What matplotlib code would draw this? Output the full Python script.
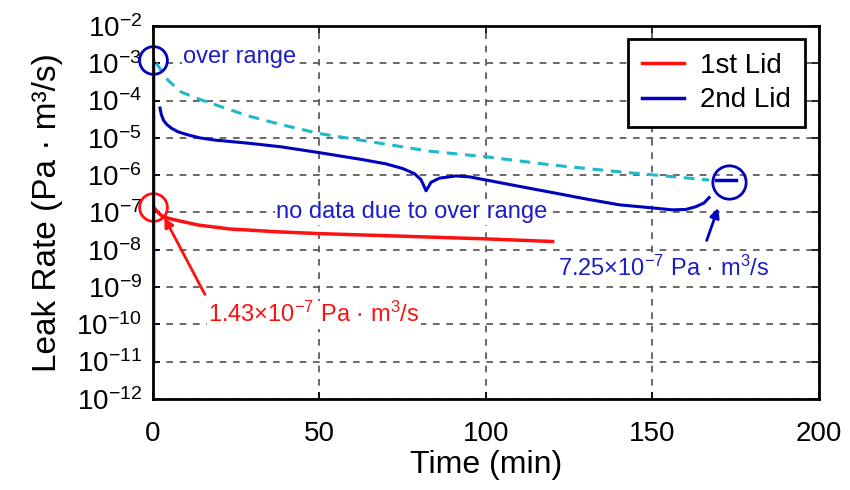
"""
Leak rate of the 1st and 2nd lids versus time (log scale).
"""

import math

import matplotlib
matplotlib.use("Agg")
import matplotlib.pyplot as plt
from matplotlib.ticker import FixedLocator, FuncFormatter

plt.rcParams['font.family'] = ['Liberation Sans', 'DejaVu Sans']

# ----------- DATA -----------

# 1st lid (red)
t_lid1 = [0, 1.5, 3, 6.6, 13.5, 23, 38, 50, 75, 100, 120]
leak_lid1 = [1.43e-7, 1.0e-7, 7.6e-8, 6.3e-8, 4.6e-8, 3.6e-8, 3.0e-8, 2.7e-8,
             2.3e-8, 1.95e-8, 1.66e-8]

# 2nd lid (blue): over range at start, final reading at the end
t_lid2_start = [0, 0]
leak_lid2_start = [1.2e-3, 1e-11]
t_lid2_end = [169, 175]
leak_lid2_end = [7.25e-7, 7.25e-7]

# estimated curve for the 2nd lid (cyan dashed)
t_est = [1, 4.5, 8.4, 14.4, 21.6, 28.5, 34.5, 40, 50, 68, 83, 100, 120, 140,
         150, 167]
leak_est = [1.0e-3, 3.5e-4, 1.7e-4, 1.05e-4, 6.3e-5, 3.9e-5, 2.8e-5, 2.1e-5,
            1.3e-5, 7.2e-6, 4.4e-6, 3.1e-6, 1.86e-6, 1.23e-6, 1.02e-6, 7.4e-7]

# curly brace over the missing 2nd lid data
t_brace = [2.1, 2.5, 3.2, 4.2, 5.6, 7.5, 10.5, 14, 18.6, 28.5, 38.4, 50, 63,
           70, 75, 78.5, 80.5, 82,
           83.5, 86, 91, 95, 100, 110, 120, 130, 140, 150, 156, 160, 163,
           165.5, 167]
leak_brace = [6.3e-5, 4.2e-5, 2.9e-5, 2.25e-5, 1.8e-5, 1.45e-5, 1.2e-5,
              1.0e-5, 8.7e-6, 7.2e-6, 5.75e-6, 4.0e-6, 2.6e-6,
              2.0e-6, 1.5e-6, 1.1e-6, 7.5e-7, 3.8e-7,
              6.4e-7, 8.3e-7, 9.5e-7, 9.0e-7, 7.4e-7, 5.0e-7, 3.4e-7, 2.3e-7,
              1.6e-7, 1.32e-7, 1.17e-7, 1.2e-7, 1.42e-7, 1.8e-7, 2.5e-7]

x_ticks = [0, 50, 100, 150, 200]
y_exponents = [-12, -11, -10, -9, -8, -7, -6, -5, -4, -3, -2]

red = "#ff1010"
blue = "#0000c0"
text_blue = "#1c1cc8"
cyan = "#20b8cc"

# ----------- VISUALISATION -----------

fig = plt.figure(figsize=(8.5, 4.9), dpi=100)
ax = fig.add_axes([0.18, 0.186, 0.7835, 0.761])

ax.plot(t_est, leak_est, color=cyan, lw=2.2, ls=(0, (3.5, 2.5)), zorder=3)
ax.plot(t_brace, leak_brace, color=blue, lw=2.2, zorder=3)
ax.plot(t_lid1, leak_lid1, color=red, lw=2.5, label="1st Lid", zorder=3)
ax.plot(t_lid2_start, leak_lid2_start, color=blue, lw=2.5, label="2nd Lid",
        zorder=3)
ax.plot(t_lid2_end, leak_lid2_end, color=blue, lw=2.5, zorder=3)

# circles
ax.plot([0], [1.2e-3], 'o', ms=20, mfc='none', mec=blue, mew=2,
        clip_on=False, zorder=4)
ax.plot([0], [1.43e-7], 'o', ms=20, mfc='none', mec=red, mew=2,
        clip_on=False, zorder=4)
ax.plot([173], [6.6e-7], 'o', ms=24, mfc='none', mec=blue, mew=2, zorder=4)

# annotations
box = dict(fc='white', ec='none', pad=1)
ax.text(9, 1.5e-3, "over range", color=text_blue, fontsize=17, va='center',
        bbox=box)
ax.text(37, 1.0e-7, "no data due to over range", color=text_blue,
        fontsize=17, va='center', bbox=box)
ax.annotate("", xy=(3, 8.5e-8), xytext=(16, 5.4e-10),
            arrowprops=dict(arrowstyle="-|>", color=red, lw=2,
                            mutation_scale=14))
ax.text(16.5, 1.8e-10,
        r"1.43×10$\mathregular{^{-7}}$ Pa · m$\mathregular{^3}$/s",
        color=red, fontsize=17, va='center', bbox=box)
ax.annotate("", xy=(170, 1.55e-7), xytext=(166, 1.5e-8),
            arrowprops=dict(arrowstyle="-|>", color=blue, lw=2,
                            mutation_scale=14))
ax.text(121.6, 3.2e-9,
        r"7.25×10$\mathregular{^{-7}}$ Pa · m$\mathregular{^3}$/s",
        color=text_blue, fontsize=17, va='center', bbox=box)

ax.set_yscale('log')
ax.set_xlim(0, 200)
ax.set_ylim(1e-12, 1e-2)
ax.xaxis.set_major_locator(FixedLocator(x_ticks))
ax.yaxis.set_major_locator(FixedLocator([10.0 ** e for e in y_exponents]))
ax.yaxis.set_minor_locator(FixedLocator([]))
ax.yaxis.set_major_formatter(FuncFormatter(
    lambda v, p: r"10$\mathregular{^{%d}}$" % round(math.log10(v))))

ax.tick_params(direction='in', length=5, width=1.2, top=True, right=True,
               labelsize=20)
ax.tick_params(axis='x', pad=16)
ax.tick_params(axis='y', pad=8)
ax.grid(True, color="#505050", ls=(0, (4, 4)), lw=1.2)
ax.set_axisbelow(True)
for s in ax.spines.values():
    s.set_linewidth(2)
    s.set_zorder(5)

ax.set_xlabel("Time (min)", fontsize=23, labelpad=2)
ax.set_ylabel("Leak Rate (Pa · m³/s)", fontsize=24, labelpad=10)

leg = ax.legend(loc='upper right', bbox_to_anchor=(0.979, 0.965),
                fontsize=20, fancybox=False, edgecolor='black',
                framealpha=1, borderaxespad=0, handlelength=1.5,
                handletextpad=0.6, borderpad=0.5, labelspacing=0.3)
leg.get_frame().set_linewidth(2)

plt.savefig("out.png", dpi=100)
